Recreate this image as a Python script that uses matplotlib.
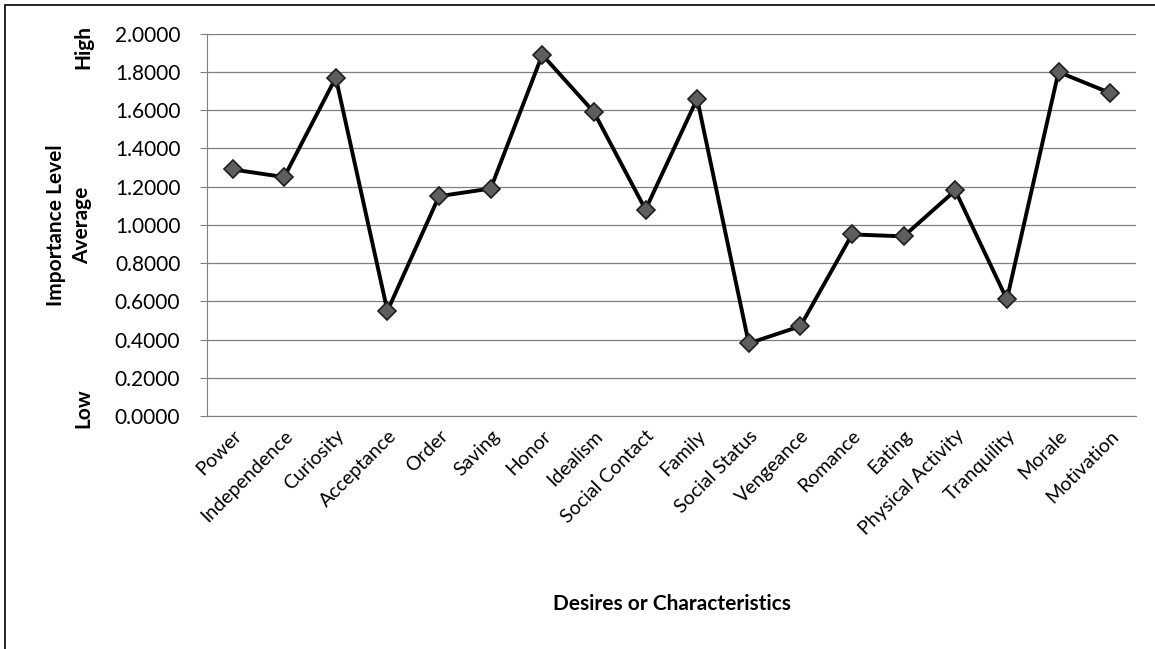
import matplotlib
matplotlib.use('Agg')
import matplotlib.pyplot as plt
from matplotlib.ticker import FormatStrFormatter
from matplotlib.patches import Rectangle

plt.rcParams['font.family'] = ['Lato', 'DejaVu Sans']

# desires / characteristics and their average importance level
categories = ['Power', 'Independence', 'Curiosity', 'Acceptance', 'Order', 'Saving',
              'Honor', 'Idealism', 'Social Contact', 'Family', 'Social Status',
              'Vengeance', 'Romance', 'Eating', 'Physical Activity', 'Tranquility',
              'Morale', 'Motivation']
averages = [1.29, 1.25, 1.77, 0.55, 1.15, 1.19, 1.89, 1.59, 1.08, 1.66,
            0.38, 0.47, 0.95, 0.94, 1.18, 0.61, 1.80, 1.69]
y_ticks = [0.0, 0.2, 0.4, 0.6, 0.8, 1.0, 1.2, 1.4, 1.6, 1.8, 2.0]

fig = plt.figure(figsize=(11.55, 6.49), dpi=100)
ax = fig.add_axes([0.179, 0.359, 0.8045, 0.589])

x = list(range(len(categories)))
ax.plot(x, averages, color='black', linewidth=2.8, marker='D', markersize=9.5,
        markerfacecolor='#5e5e5e', markeredgecolor='#1e1e1e', markeredgewidth=1.2,
        zorder=3)

ax.set_xlim(-0.5, len(categories) - 0.5)
ax.set_ylim(0, 2)
ax.set_yticks(y_ticks)
ax.yaxis.set_major_formatter(FormatStrFormatter('%.4f'))
ax.set_xticks(x)
ax.set_xticklabels(categories, rotation=45, ha='right', rotation_mode='anchor')

# gridlines like the Excel chart
ax.grid(axis='y', color='#7f7f7f', linewidth=0.9)
ax.set_axisbelow(True)
for side in ['top', 'right']:
    ax.spines[side].set_visible(False)
ax.spines['left'].set_color('#7f7f7f')
ax.spines['bottom'].set_color('#7f7f7f')

ax.tick_params(axis='y', length=5, color='#7f7f7f', pad=14, labelsize=15)
ax.tick_params(axis='x', length=0, pad=8, labelsize=14)

# axis titles
fig.text(0.060, 0.653, 'Importance Level\nAverage', rotation=90, ha='center',
         va='center', fontsize=15, fontweight='bold', linespacing=1.35)
fig.text(0.072, 0.927, 'High', rotation=90, ha='center', va='center',
         fontsize=15, fontweight='bold')
fig.text(0.072, 0.371, 'Low', rotation=90, ha='center', va='center',
         fontsize=15, fontweight='bold')
fig.text(0.582, 0.069, 'Desires or Characteristics', ha='center', va='center',
         fontsize=15, fontweight='bold')

# thin frame around the whole chart
fig.patches.append(Rectangle((0.004, -0.05), 1.1, 1.042, transform=fig.transFigure,
                             fill=False, edgecolor='black', linewidth=1.2))

plt.savefig('out.png', dpi=100)
